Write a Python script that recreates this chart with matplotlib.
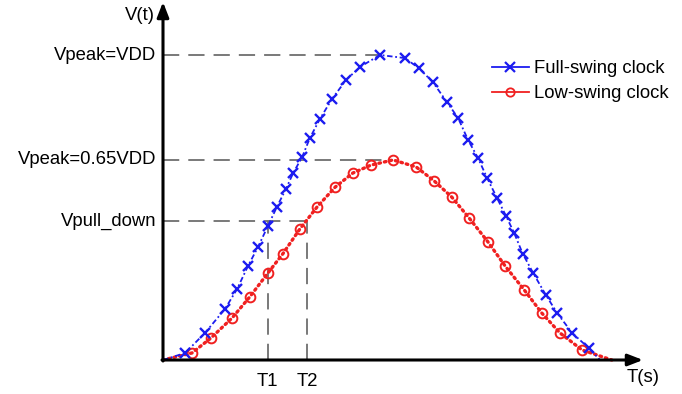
import matplotlib
matplotlib.use("Agg")
import matplotlib.pyplot as plt
from matplotlib.lines import Line2D

plt.rcParams['font.family'] = ['Liberation Sans', 'DejaVu Sans']

# ---- data (time in % of the clock period, voltage as fraction of VDD) ----
full_t = [0.0, 4.9, 9.3, 13.7, 16.4, 18.8, 21.0, 23.2, 25.2, 27.2, 28.8, 30.8, 32.5,
          34.7, 37.4, 40.5, 43.6, 48.0, 53.5, 56.6, 59.7, 62.8, 65.3, 67.5, 69.7,
          71.7, 73.9, 75.9, 77.7, 79.6, 81.9, 84.7, 87.2, 90.5, 94.2, 96.7]
full_v = [0.0, 0.023, 0.089, 0.167, 0.233, 0.308, 0.370, 0.439, 0.502, 0.561, 0.613,
          0.666, 0.728, 0.790, 0.856, 0.918, 0.961, 1.000, 0.990, 0.957, 0.911, 0.846,
          0.793, 0.721, 0.662, 0.597, 0.531, 0.472, 0.416, 0.348, 0.285, 0.213, 0.154,
          0.089, 0.039, 0.0]

low_t = [0.0, 6.4, 10.6, 15.3, 19.2, 23.2, 26.5, 30.3, 34.1, 38.1, 42.0, 46.0, 50.9,
         56.0, 60.0, 63.9, 67.7, 71.9, 75.7, 79.9, 83.8, 87.8, 92.7, 99.3]
low_v = [0.0, 0.023, 0.072, 0.138, 0.207, 0.285, 0.348, 0.430, 0.502, 0.567, 0.613,
         0.639, 0.656, 0.633, 0.587, 0.534, 0.466, 0.387, 0.308, 0.230, 0.154, 0.089,
         0.033, 0.0]

level_labels = ["Vpeak=VDD", "Vpeak=0.65VDD", "Vpull_down"]
level_values = [1.0, 0.656, 0.456]
level_ends = [48.0, 50.9, 31.9]       # where each horizontal guide stops
time_labels = ["T1", "T2"]
time_values = [23.2, 31.9]
series_names = ["Full-swing clock", "Low-swing clock"]

# ---- figure ----
W, H = 682, 394
fig = plt.figure(figsize=(W / 100, H / 100), dpi=100)
ax = fig.add_axes([0, 0, 1, 1])
X0, Y0, SX, SY = 163, 360, 4.52, 305   # origin pixel & scale


def px(x, y):
    return (x - X0) / SX, (Y0 - y) / SY


ax.set_xlim(px(0, 0)[0], px(W, 0)[0])
ax.set_ylim(px(0, H)[1], px(0, 0)[1])
ax.axis('off')

blue = '#1c1cf0'
red = '#f02020'
gray = '#6e6e6e'
fs = 13.3

# guide lines
for v, xe in zip(level_values, level_ends):
    ax.plot([0, xe], [v, v], color=gray, lw=1.3, ls=(0, (9, 5)), zorder=1)
for t in time_values:
    ax.plot([t, t], [0, level_values[2]], color=gray, lw=1.3, ls=(0, (9, 5)), zorder=1)

# series
ax.plot(low_t, low_v, color=red, lw=2.4, ls=(0, (0.5, 1.2)), dash_capstyle='round', zorder=3)
ax.plot(low_t[1:-1], low_v[1:-1], ls='none', marker='o', ms=7, mfc='none',
        mec=red, mew=1.4, zorder=4)
ax.plot(full_t, full_v, color=blue, lw=1.3, ls=(0, (3, 1.5, 1, 1.5)), zorder=3)
ax.plot(full_t[1:-1], full_v[1:-1], ls='none', marker='x', ms=7.5, mec=blue,
        mew=1.7, zorder=4)

# axes arrows
ax.annotate('', xy=px(X0, 2), xytext=px(X0, Y0 + 1),
            arrowprops=dict(arrowstyle='-|>,head_length=0.9,head_width=0.35',
                            color='black', lw=2.2, shrinkA=0, shrinkB=0), zorder=5)
ax.annotate('', xy=px(643, Y0), xytext=px(X0 - 1, Y0),
            arrowprops=dict(arrowstyle='-|>,head_length=0.9,head_width=0.35',
                            color='black', lw=2.2, shrinkA=0, shrinkB=0), zorder=5)

# text labels
for lab, v in zip(level_labels, level_values):
    ax.text(px(156, 0)[0], v, lab, ha='right', va='center', fontsize=fs)
for lab, t in zip(time_labels, time_values):
    ax.text(t, px(0, 382)[1], lab, ha='center', va='center', fontsize=fs)
ax.text(*px(140, 16), 'V(t)', ha='center', va='center', fontsize=fs)
ax.text(*px(643, 378), 'T(s)', ha='center', va='center', fontsize=fs)

# legend
handles = [Line2D([], [], color=blue, lw=1.3, marker='x', ms=7, mew=1.6),
           Line2D([], [], color=red, lw=1.3, marker='o', ms=6, mfc='none', mew=1.3)]
leg = ax.legend(handles, series_names, loc='upper left',
                bbox_to_anchor=(492 / W, 1 - 60 / H), frameon=False,
                fontsize=fs, handlelength=2.0, handletextpad=0.3,
                labelspacing=0.45, borderpad=0, borderaxespad=0)

fig.savefig('out.png', dpi=100)
